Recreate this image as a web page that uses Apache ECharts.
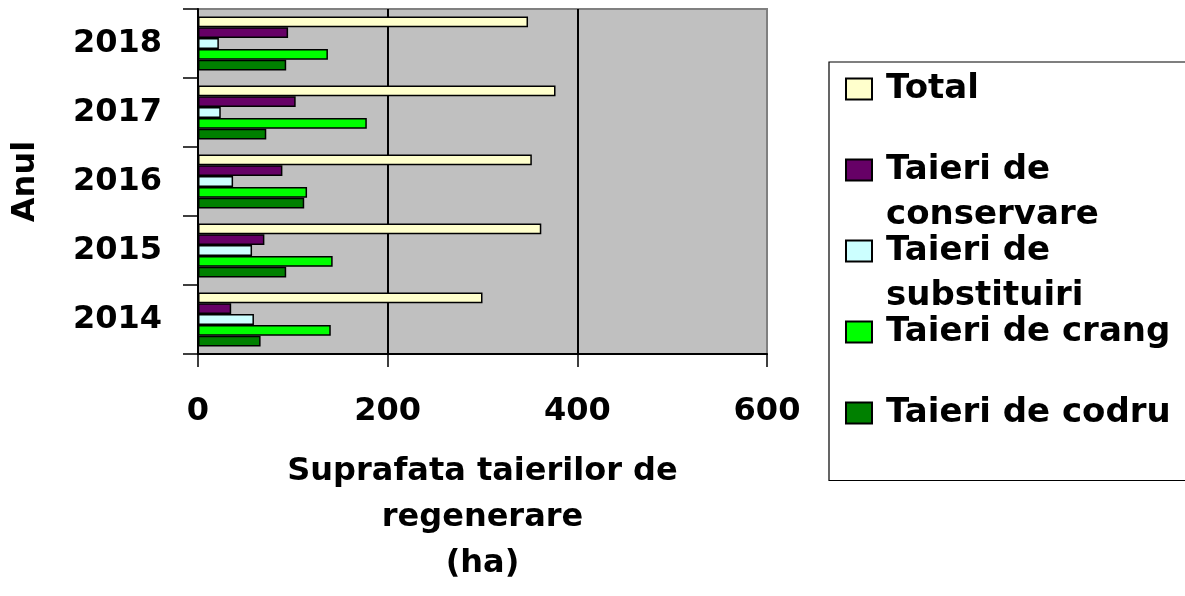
<!DOCTYPE html>
<html>
<head>
<meta charset="utf-8">
<script src="https://cdn.jsdelivr.net/npm/echarts@6/dist/echarts.min.js"></script>
<style>
  html, body { margin: 0; padding: 0; background: #fff; }
  #chart { width: 1185px; height: 596px; }
</style>
</head>
<body>
<div id="chart"></div>
<script>
// Suprafata taierilor de regenerare (ha), pe ani
const years = ['2014', '2015', '2016', '2017', '2018'];
const total = [300, 362, 352, 377, 348];
const conservare = [35, 70, 89, 103, 95];
const substituiri = [59, 57, 37, 24, 22];
const crang = [140, 142, 115, 178, 137];
const codru = [66, 93, 112, 72, 93];
const xTicks = [0, 200, 400, 600];

const seriesNames = ['Total', 'Taieri de conservare', 'Taieri de substituiri', 'Taieri de crang', 'Taieri de codru'];
const legendText = ['Total', 'Taieri de\nconservare', 'Taieri de\nsubstituiri', 'Taieri de crang', 'Taieri de codru'];
const seriesValues = [total, conservare, substituiri, crang, codru];
const seriesColors = ['#FFFFCC', '#660066', '#CCFFFF', '#00FF00', '#008000'];

const FONT = 'DejaVu Sans';
const LINE = 45;

const chart = echarts.init(document.getElementById('chart'), null, { renderer: 'canvas' });

const series = seriesNames.map((name, i) => ({
  name: name,
  type: 'bar',
  data: seriesValues[i],
  barGap: '0%',
  barCategoryGap: '22%',
  itemStyle: { color: seriesColors[i], borderColor: '#000', borderWidth: 1.5 }
}));

// every legend entry is three lines tall; the first text line sits on the colour box
const legendData = seriesNames.map((name, i) => {
  const twoLines = legendText[i].indexOf('\n') >= 0;
  return {
    name: name,
    textStyle: { padding: twoLines ? [0, 0, 0, 9] : [LINE, 0, LINE, 9] }
  };
});

chart.setOption({
  animation: false,
  backgroundColor: '#fff',
  textStyle: { fontFamily: FONT },
  grid: {
    left: 198, top: 9, width: 569, height: 345,
    show: true, backgroundColor: '#C0C0C0', borderColor: '#808080', borderWidth: 2,
    containLabel: false
  },
  legend: {
    orient: 'vertical',
    left: 829, top: 62,
    padding: [-40.5, 40, 0, 16],
    itemGap: -54,
    itemWidth: 26, itemHeight: 21,
    icon: 'rect',
    backgroundColor: '#fff',
    borderColor: '#000', borderWidth: 1.2,
    selectedMode: false,
    data: legendData,
    formatter: function (name) {
      const t = legendText[seriesNames.indexOf(name)];
      // a blank leading line keeps the first line centred on the box
      return t.indexOf('\n') >= 0 ? '\n' + t : t;
    },
    textStyle: { fontFamily: FONT, fontWeight: 'bold', fontSize: 34, lineHeight: LINE, color: '#000' }
  },
  xAxis: {
    type: 'value',
    min: xTicks[0], max: xTicks[xTicks.length - 1], interval: xTicks[1] - xTicks[0],
    name: 'Suprafata taierilor de\nregenerare\n(ha)',
    nameLocation: 'middle',
    nameGap: 95,
    nameTextStyle: { fontFamily: FONT, fontWeight: 'bold', fontSize: 32, lineHeight: 46, color: '#000' },
    axisLine: { show: true, lineStyle: { color: '#000', width: 2 } },
    axisTick: { show: true, length: 13, lineStyle: { color: '#000', width: 1.5 } },
    axisLabel: { margin: 40, fontFamily: FONT, fontWeight: 'bold', fontSize: 32, lineHeight: 36, color: '#000' },
    splitLine: { show: true, lineStyle: { color: ['#000', '#000', '#000', '#808080'], width: 2 } }
  },
  yAxis: {
    type: 'category',
    data: years,
    name: 'Anul',
    nameLocation: 'middle',
    nameGap: 156,
    nameTextStyle: { fontFamily: FONT, fontWeight: 'bold', fontSize: 32, color: '#000' },
    axisLine: { show: true, lineStyle: { color: '#000', width: 2 } },
    axisTick: { show: true, length: 15, lineStyle: { color: '#000', width: 1.5 } },
    axisLabel: { margin: 36, fontFamily: FONT, fontWeight: 'bold', fontSize: 32, color: '#000' },
    splitLine: { show: false }
  },
  series: series
});
</script>
</body>
</html>
